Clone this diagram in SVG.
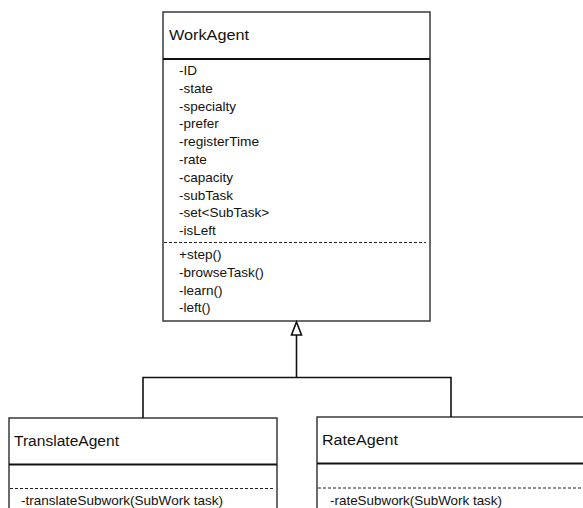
<svg xmlns="http://www.w3.org/2000/svg" width="583" height="508" viewBox="0 0 583 508">
  <style>
    .box { fill: #ffffff; stroke: #3a3a3a; stroke-width: 1.5; }
    .sep { stroke: #111111; stroke-width: 2; }
    .dash { stroke: #222222; stroke-width: 1; stroke-dasharray: 3 2; }
    .title { font-family: "Liberation Sans", Arial, sans-serif; font-size: 15.5px; fill: #111111; }
    .member { font-family: "Liberation Sans", Arial, sans-serif; font-size: 13.5px; fill: #111111; }
    .link { fill: none; stroke: #111111; stroke-width: 1.6; }
    .head { fill: #ffffff; stroke: #111111; stroke-width: 1.6; stroke-linejoin: miter; }
  </style>
  <rect width="583" height="508" fill="#ffffff"/>

  <!-- base class -->
  <g id="WorkAgent">
    <rect class="box" x="163" y="12" width="267" height="309"/>
    <line class="sep" x1="163" y1="59" x2="430" y2="59"/>
    <text class="title" x="169" y="40" textLength="80" lengthAdjust="spacingAndGlyphs">WorkAgent</text>
    <text class="member" x="179" y="75">-ID</text>
    <text class="member" x="179" y="92.8">-state</text>
    <text class="member" x="179" y="110.6">-specialty</text>
    <text class="member" x="179" y="128.4">-prefer</text>
    <text class="member" x="179" y="146.2" textLength="80" lengthAdjust="spacingAndGlyphs">-registerTime</text>
    <text class="member" x="179" y="164">-rate</text>
    <text class="member" x="179" y="181.8">-capacity</text>
    <text class="member" x="179" y="199.6">-subTask</text>
    <text class="member" x="179" y="217.4">-set&lt;SubTask&gt;</text>
    <text class="member" x="179" y="235.2">-isLeft</text>
    <line class="dash" x1="164" y1="242.5" x2="426" y2="242.5"/>
    <text class="member" x="179" y="259">+step()</text>
    <text class="member" x="179" y="276.8">-browseTask()</text>
    <text class="member" x="179" y="294.6">-learn()</text>
    <text class="member" x="179" y="312.4">-left()</text>
  </g>

  <!-- subclasses -->
  <g id="TranslateAgent">
    <rect class="box" x="9" y="418" width="268" height="110"/>
    <line class="sep" x1="9" y1="464.5" x2="277" y2="464.5"/>
    <text class="title" x="14" y="446" textLength="105" lengthAdjust="spacingAndGlyphs">TranslateAgent</text>
    <line class="dash" x1="10" y1="488.5" x2="275" y2="488.5"/>
    <text class="member" x="21" y="505" textLength="202" lengthAdjust="spacingAndGlyphs">-translateSubwork(SubWork task)</text>
  </g>

  <g id="RateAgent">
    <rect class="box" x="317" y="417" width="290" height="110"/>
    <line class="sep" x1="317" y1="463.5" x2="583" y2="463.5"/>
    <text class="title" x="322" y="445" textLength="76" lengthAdjust="spacingAndGlyphs">RateAgent</text>
    <line class="dash" x1="318" y1="488" x2="583" y2="488"/>
    <text class="member" x="330" y="505" textLength="172" lengthAdjust="spacingAndGlyphs">-rateSubwork(SubWork task)</text>
  </g>

  <!-- generalization connectors -->
  <g id="connectors">
    <path class="link" d="M143,418 L143,377.5 L451,377.5 L451,417"/>
    <path class="link" d="M296.5,377.5 L296.5,335"/>
    <polygon class="head" points="296.5,322 301.5,335 291.5,335"/>
  </g>
</svg>
